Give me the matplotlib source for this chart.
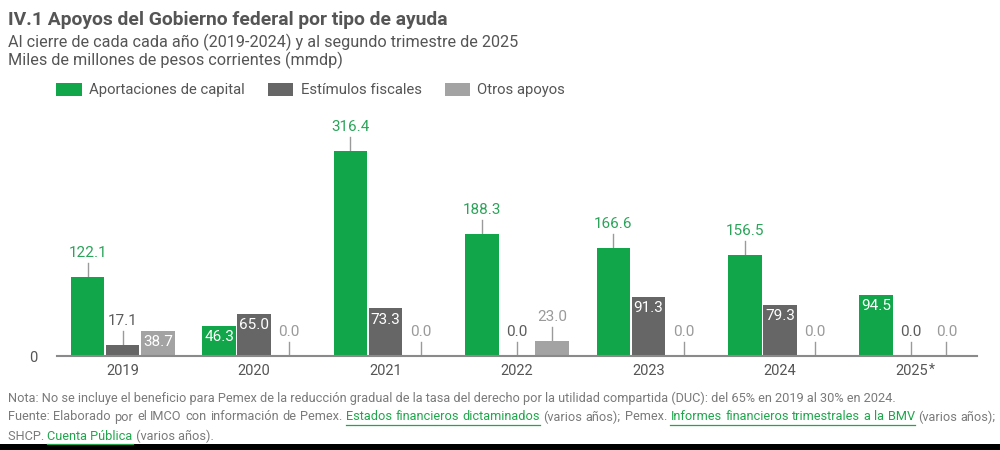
import matplotlib.pyplot as plt
import numpy as np
from matplotlib.patches import Patch, Rectangle
from matplotlib.lines import Line2D

plt.rcParams['font.family'] = ['Roboto', 'DejaVu Sans']

# Data
years = ['2019', '2020', '2021', '2022', '2023', '2024', '2025']
series_names = ['Aportaciones de capital', 'Estímulos fiscales', 'Otros apoyos']
aportaciones = [122.1, 46.3, 316.4, 188.3, 166.6, 156.5, 94.5]
estimulos = [17.1, 65.0, 73.3, 0.0, 91.3, 79.3, 0.0]
otros = [38.7, 0.0, 0.0, 23.0, 0.0, 0.0, 0.0]

# Colors
bar_colors = ['#12a64a', '#666666', '#a3a3a3']
label_colors = ['#2ba45a', '#5c5c5c', '#9a9a9a']
text_gray = '#555555'
note_gray = '#7a7a7a'
link_green = '#1fa64c'

fig = plt.figure(figsize=(10, 4.5), dpi=100)
ax = fig.add_axes([0.057, 1 - 356 / 450, 0.92, 256 / 450])

x = np.arange(len(years))
width = 0.255
offset = 0.267
all_series = [aportaciones, estimulos, otros]
lead = 14 / 0.648  # leader line length in data units

for i, vals in enumerate(all_series):
    xs = x + (i - 1) * offset
    ax.bar(xs, vals, width=width, color=bar_colors[i], zorder=2)
    for xv, v in zip(xs, vals):
        # labels inside the bar for mid-sized bars, outside with leader otherwise
        if 35 <= v < 100:
            ax.annotate(f'{v:.1f}', (xv, v), xytext=(0, -3), textcoords='offset points',
                        ha='center', va='top', color='white', fontsize=11, zorder=3)
        else:
            ax.plot([xv, xv], [v, v + lead], color='#9a9a9a', lw=1, zorder=1)
            ax.annotate(f'{v:.1f}', (xv, v + lead), xytext=(0, 2),
                        textcoords='offset points', ha='center', va='bottom',
                        color=label_colors[i], fontsize=11, zorder=3)

ax.set_xlim(-0.5, 6.5)
ax.set_ylim(0, 395)
for s in ['top', 'right', 'left']:
    ax.spines[s].set_visible(False)
ax.spines['bottom'].set_color('#8a8a8a')
ax.spines['bottom'].set_linewidth(1.5)
ax.spines['bottom'].set_zorder(4)
ax.set_xticks(x)
ax.set_xticklabels(years, fontsize=10.5, color=text_gray)
ax.set_yticks([0])
ax.set_yticklabels(['0'], fontsize=10.5, color=text_gray)
ax.tick_params(axis='both', length=0, pad=6)
ax.tick_params(axis='y', pad=14)
ax.annotate('*', (6, 0), xytext=(12.5, -5), textcoords='offset points',
            ha='left', va='top', fontsize=10, color=text_gray)

# Title block
fig.text(0.008, 1 - 20 / 450, 'IV.1 Apoyos del Gobierno federal por tipo de ayuda',
         fontsize=13.9, fontweight='bold', color=text_gray, va='center')
fig.text(0.008, 1 - 42 / 450, 'Al cierre de cada cada año (2019-2024) y al segundo trimestre de 2025',
         fontsize=11.7, color=text_gray, va='center')
fig.text(0.008, 1 - 60 / 450, 'Miles de millones de pesos corrientes (mmdp)',
         fontsize=11.7, color=text_gray, va='center')

handles = [Patch(facecolor=c, edgecolor='none') for c in bar_colors]
fig.legend(handles, series_names, loc='center left', bbox_to_anchor=(0.049, 1 - 90 / 450),
           ncol=3, frameon=False, fontsize=10.7, handlelength=1.7, handleheight=0.95,
           handletextpad=0.5, columnspacing=1.55, borderpad=0, labelcolor=text_gray)

# Footer with links
renderer = fig.canvas.get_renderer()
foot_size = 9.2


def underline(x0, x1, y_px):
    fig.add_artist(Line2D([x0 / 1000, x1 / 1000], [1 - (y_px + 7.5) / 450] * 2,
                          color=link_green, lw=0.9))


def draw_segments(runs, y_px, x0=8):
    xp = x0
    for txt, is_link in runs:
        t = fig.text(xp / 1000, 1 - y_px / 450, txt, fontsize=foot_size, va='center',
                     color=link_green if is_link else note_gray)
        wd = t.get_window_extent(renderer).width
        if is_link:
            underline(xp, xp + wd, y_px)
        xp += wd
    return xp


def draw_justified(runs, y_px, x0=8, x1=996):
    words = []
    for txt, is_link in runs:
        for w in txt.split(' '):
            if w:
                words.append((w, is_link))
    objs = [fig.text(0, 1 - y_px / 450, w, fontsize=foot_size, va='center',
                     color=link_green if l else note_gray) for w, l in words]
    widths = [o.get_window_extent(renderer).width for o in objs]
    gap = (x1 - x0 - sum(widths)) / (len(words) - 1)
    xp = x0
    link_start = None
    last_end = x0
    for (w, l), o, wd in zip(words, objs, widths):
        o.set_x(xp / 1000)
        if l and link_start is None:
            link_start = xp
        if not l and link_start is not None:
            underline(link_start, last_end, y_px)
            link_start = None
        last_end = xp + wd
        xp += wd + gap
    if link_start is not None:
        underline(link_start, last_end, y_px)


draw_segments([('Nota: No se incluye el beneficio para Pemex de la reducción gradual de la tasa del '
                'derecho por la utilidad compartida (DUC): del 65% en 2019 al 30% en 2024.', False)], 398)
draw_justified([('Fuente: Elaborado por el IMCO con información de Pemex.', False),
                ('Estados financieros dictaminados', True),
                ('(varios años); Pemex.', False),
                ('Informes financieros trimestrales a la BMV', True),
                ('(varios años);', False)], 417)
draw_segments([('SHCP. ', False), ('Cuenta Pública', True), (' (varios años).', False)], 436)

# dark strip along the bottom edge
fig.add_artist(Rectangle((0, 0), 1, 6 / 450, transform=fig.transFigure,
                         facecolor='black', edgecolor='none'))

fig.savefig('out.png', dpi=100)
